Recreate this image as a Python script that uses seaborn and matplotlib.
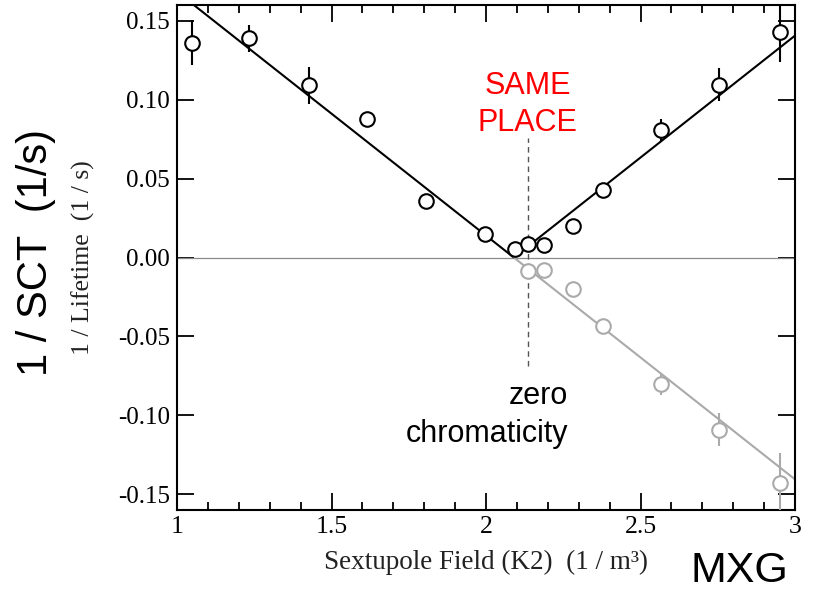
import matplotlib
matplotlib.use("Agg")
import matplotlib.pyplot as plt
import matplotlib.ticker as mticker
import numpy as np
import pandas as pd
import seaborn as sns

# Measured inverse lifetime vs sextupole strength
k2 = [1.05, 1.233, 1.427, 1.616, 1.806, 1.997, 2.094, 2.135, 2.189, 2.283, 2.379, 2.566, 2.754, 2.951]
inv_lifetime = [0.136, 0.139, 0.109, 0.088, 0.0355, 0.015, 0.0055, 0.0085, 0.0077, 0.020, 0.043, 0.0805, 0.1095, 0.143]
inv_lifetime_err = [0.0142, 0.0085, 0.0115, 0.002, 0.002, 0.002, 0.002, 0.002, 0.002, 0.002, 0.003, 0.007, 0.0105, 0.019]

# Same points with signed rate above zero chromaticity
k2_signed = [2.135, 2.189, 2.283, 2.379, 2.566, 2.754, 2.951]
inv_lifetime_signed = [-0.0085, -0.0077, -0.020, -0.0432, -0.080, -0.109, -0.143]
inv_lifetime_signed_err = [0.002, 0.002, 0.002, 0.003, 0.007, 0.0105, 0.019]

# V-shaped fit: |rate| = slope * |K2 - k2_zero|
k2_zero = 2.09
fit_slope = 0.1545
k2_range = [1.0, 3.0]
zero_chrom_k2 = 2.135
zero_chrom_span = [-0.069, 0.076]

x_ticks = [1, 1.5, 2, 2.5, 3]
y_ticks = [-0.15, -0.10, -0.05, 0.00, 0.05, 0.10, 0.15]

sns.set_theme(style="ticks")
plt.rcParams["font.family"] = ["Liberation Serif", "DejaVu Serif"]
plt.rcParams["axes.unicode_minus"] = False

W, H = 818, 592
fig = plt.figure(figsize=(W / 100, H / 100), dpi=100)
fig.patch.set_facecolor("white")
ax = fig.add_axes([177 / W, 1 - 510 / H, 618 / W, 505 / H])
ax.set_facecolor("white")

black = "#000000"
grey = "#aaaaaa"

# zero reference and zero-chromaticity marker
ax.axhline(0, color="#8a8a8a", lw=0.9, zorder=1)
ax.plot([zero_chrom_k2, zero_chrom_k2], zero_chrom_span, color="#555555",
        lw=1.0, dashes=(4, 3), zorder=1)

# fitted lines
fit_left = pd.DataFrame({"x": [k2_range[0], k2_zero]})
fit_left["y"] = -fit_slope * (fit_left["x"] - k2_zero)
fit_right = pd.DataFrame({"x": [k2_zero, k2_range[1]]})
fit_right["y"] = fit_slope * (fit_right["x"] - k2_zero)
fit_signed = fit_right.assign(y=-fit_right["y"])

sns.lineplot(data=fit_left, x="x", y="y", color=black, lw=1.5, ax=ax, zorder=2)
sns.lineplot(data=fit_right, x="x", y="y", color=black, lw=1.5, ax=ax, zorder=2)
sns.lineplot(data=fit_signed, x="x", y="y", color=grey, lw=1.5, ax=ax, zorder=2)

# error bars
ax.errorbar(k2, inv_lifetime, yerr=inv_lifetime_err, fmt="none",
            ecolor=black, elinewidth=1.5, capsize=0, zorder=3)
ax.errorbar(k2_signed, inv_lifetime_signed, yerr=inv_lifetime_signed_err, fmt="none",
            ecolor=grey, elinewidth=1.5, capsize=0, zorder=3)

# data points
sns.scatterplot(x=k2_signed, y=inv_lifetime_signed, marker="o",
                s=110, facecolor="white", edgecolor=grey, linewidth=1.5, ax=ax, zorder=4)
sns.scatterplot(x=k2, y=inv_lifetime, marker="o", s=110, facecolor="white",
                edgecolor=black, linewidth=1.5, ax=ax, zorder=5)

ax.set_xlim(1, 3)
ax.set_ylim(-0.16, 0.16)
ax.set_xticks(x_ticks)
ax.set_yticks(y_ticks)
ax.xaxis.set_minor_locator(mticker.MultipleLocator(0.1))
ax.xaxis.set_major_formatter(mticker.FormatStrFormatter("%g"))
ax.yaxis.set_major_formatter(mticker.FormatStrFormatter("%.2f"))

for s in ax.spines.values():
    s.set_visible(True)
    s.set_color("black")
    s.set_linewidth(1.5)

ax.tick_params(axis="both", which="both", direction="in", top=True, right=True,
               colors="black", labelcolor="black")
ax.tick_params(axis="both", which="major", length=12, width=1.3)
ax.tick_params(axis="x", which="minor", length=6, width=1.3)
ax.tick_params(axis="x", which="major", labelsize=18.5, pad=4)
ax.tick_params(axis="y", which="major", labelsize=18, pad=5)

ax.set_xlabel("Sextupole Field (K2)  (1 / m³)", fontsize=19.5, color="#222222")
ax.xaxis.set_label_coords(0.5, -0.078)
ax.set_ylabel("1 / Lifetime  (1 / s)", fontsize=18.5, color="#222222")
ax.yaxis.set_label_coords(-0.133, 0.5)

sans = ["Liberation Sans", "DejaVu Sans"]
ax.text(zero_chrom_k2, 0.080, "SAME\nPLACE", color="#ff0000", fontsize=22,
        family=sans, ha="center", va="baseline", linespacing=1.32)
ax.text(2.265, -0.1166, "zero\nchromaticity", color="black", fontsize=22,
        family=sans, ha="right", va="baseline", multialignment="right", linespacing=1.32)

fig.text(36 / W, 1 - 252 / H, "1 / SCT  (1/s)", rotation=90, fontsize=30,
         family=sans, ha="center", va="center", color="black")
fig.text(690 / W, 1 - 582 / H, "MXG", fontsize=31, family=sans,
         ha="left", va="baseline", color="black")

fig.savefig("out.png", dpi=100)
